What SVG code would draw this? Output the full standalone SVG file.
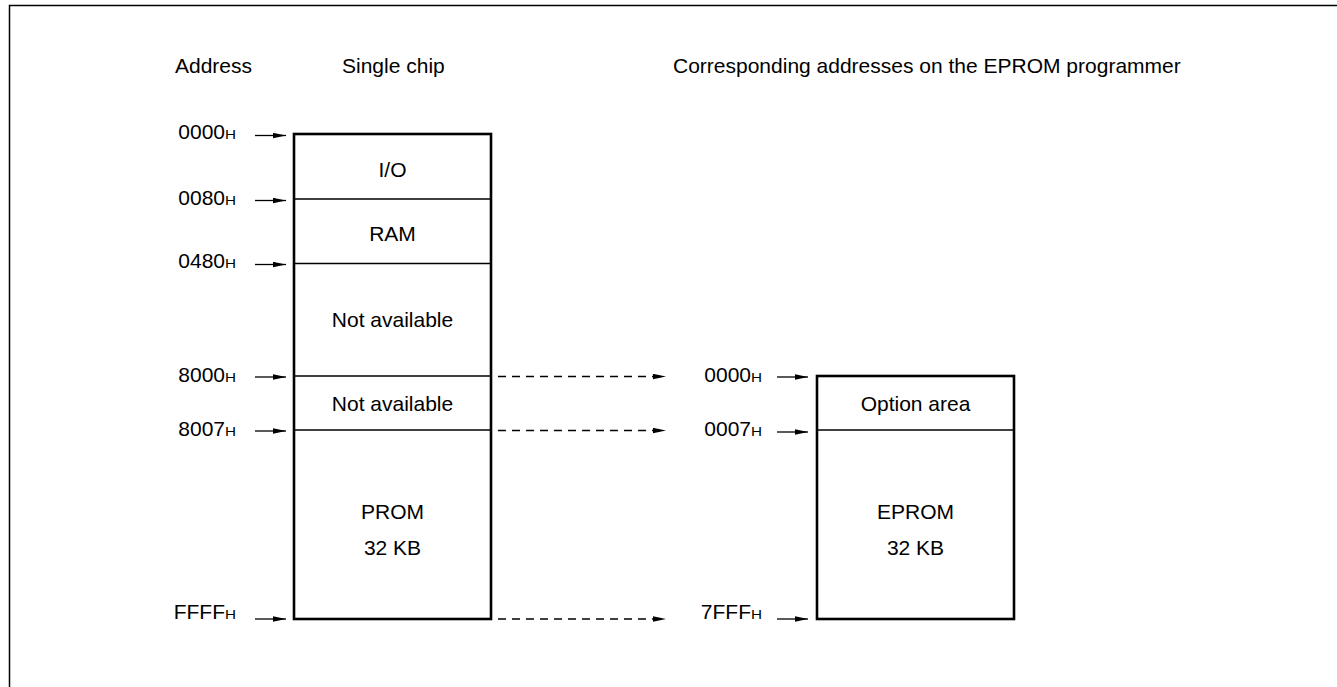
<svg xmlns="http://www.w3.org/2000/svg" width="1337" height="687" viewBox="0 0 1337 687">
<defs>
<marker id="ah" viewBox="0 0 13 6" refX="13" refY="3" markerWidth="13" markerHeight="6" markerUnits="userSpaceOnUse" orient="auto">
<path d="M0,0.3 L13,3 L0,5.7 Z" fill="#000"/>
</marker>
<style>
text{font-family:"Liberation Sans",Arial,sans-serif;font-size:21px;fill:#000}
.c{text-anchor:middle}
.e{text-anchor:end}
.h{font-size:12.5px}
.box{fill:#fff;stroke:#000;stroke-width:2.6}
.div{stroke:#000;stroke-width:1.3}
.ar{stroke:#000;stroke-width:1.3;marker-end:url(#ah)}
.da{stroke:#000;stroke-width:1.3;stroke-dasharray:8 6;marker-end:url(#ah)}
</style>
</defs>
<rect width="1337" height="687" fill="#fff"/>
<path d="M9.5,687 V5.5 H1337" fill="none" stroke="#000" stroke-width="1.5"/>
<g id="headers">
<text x="175" y="73">Address</text>
<text x="342" y="73">Single chip</text>
<text x="673" y="73">Corresponding addresses on the EPROM programmer</text>
</g>
<g id="single-chip">
<rect class="box" x="294" y="134" width="197" height="485"/>
<line class="div" x1="294" y1="199" x2="491" y2="199"/>
<line class="div" x1="294" y1="263.5" x2="491" y2="263.5"/>
<line class="div" x1="294" y1="376" x2="491" y2="376"/>
<line class="div" x1="294" y1="430" x2="491" y2="430"/>
<text class="c" x="392.5" y="176.5">I/O</text>
<text class="c" x="392.5" y="240.5">RAM</text>
<text class="c" x="392.5" y="327">Not available</text>
<text class="c" x="392.5" y="410.5">Not available</text>
<text class="c" x="392.5" y="519">PROM</text>
<text class="c" x="392.5" y="555">32 KB</text>
</g>
<g id="eprom">
<rect class="box" x="817" y="376" width="197" height="243"/>
<line class="div" x1="817" y1="430" x2="1014" y2="430"/>
<text class="c" x="915.5" y="410.5">Option area</text>
<text class="c" x="915.5" y="519">EPROM</text>
<text class="c" x="915.5" y="555">32 KB</text>
</g>
<g id="address-labels">
<text class="e" x="236" y="139">0000<tspan class="h" textLength="11" lengthAdjust="spacingAndGlyphs">H</tspan></text>
<text class="e" x="236" y="205">0080<tspan class="h" textLength="11" lengthAdjust="spacingAndGlyphs">H</tspan></text>
<text class="e" x="236" y="268">0480<tspan class="h" textLength="11" lengthAdjust="spacingAndGlyphs">H</tspan></text>
<text class="e" x="236" y="382">8000<tspan class="h" textLength="11" lengthAdjust="spacingAndGlyphs">H</tspan></text>
<text class="e" x="236" y="436">8007<tspan class="h" textLength="11" lengthAdjust="spacingAndGlyphs">H</tspan></text>
<text class="e" x="236" y="619">FFFF<tspan class="h" textLength="11" lengthAdjust="spacingAndGlyphs">H</tspan></text>
<text class="e" x="762" y="382">0000<tspan class="h" textLength="11" lengthAdjust="spacingAndGlyphs">H</tspan></text>
<text class="e" x="762" y="436">0007<tspan class="h" textLength="11" lengthAdjust="spacingAndGlyphs">H</tspan></text>
<text class="e" x="762" y="619">7FFF<tspan class="h" textLength="11" lengthAdjust="spacingAndGlyphs">H</tspan></text>
</g>
<g id="connectors">
<line class="ar" x1="255" y1="135.5" x2="286" y2="135.5"/>
<line class="ar" x1="255" y1="200.5" x2="286" y2="200.5"/>
<line class="ar" x1="255" y1="264.5" x2="286" y2="264.5"/>
<line class="ar" x1="255" y1="377" x2="286" y2="377"/>
<line class="ar" x1="255" y1="431" x2="286" y2="431"/>
<line class="ar" x1="255" y1="619" x2="286" y2="619"/>
<line class="da" x1="498" y1="376.5" x2="666" y2="376.5"/>
<line class="da" x1="498" y1="430.5" x2="666" y2="430.5"/>
<line class="da" x1="498" y1="619" x2="666" y2="619"/>
<line class="ar" x1="777" y1="377" x2="808" y2="377"/>
<line class="ar" x1="777" y1="432" x2="808" y2="432"/>
<line class="ar" x1="777" y1="619" x2="808" y2="619"/>
</g>
</svg>
